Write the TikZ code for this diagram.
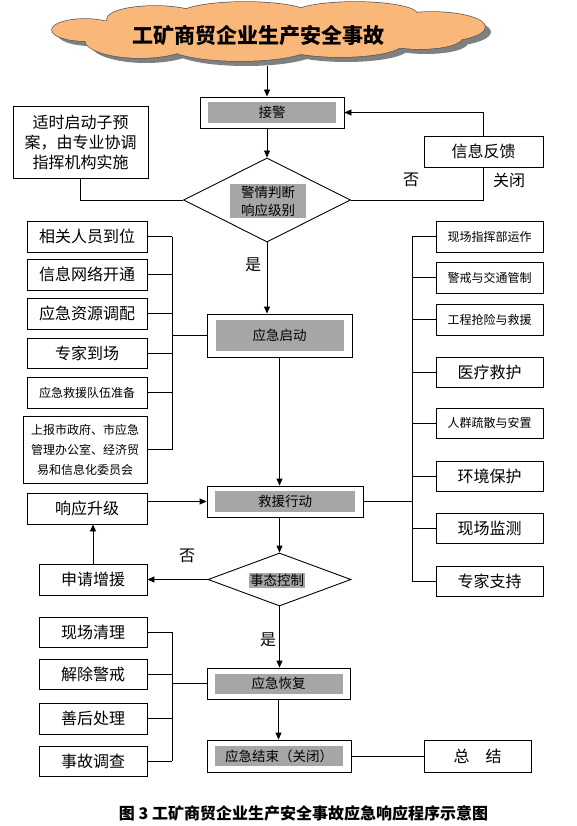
\documentclass[tikz,border=0pt]{standalone}
\usepackage{fontspec}
\setmainfont{Noto Sans CJK SC}
\usetikzlibrary{arrows.meta,shapes.geometric}
\definecolor{hl}{RGB}{166,166,166}
\definecolor{cloudc}{RGB}{249,184,122}
\definecolor{shad}{RGB}{128,128,128}
\begin{document}
\begin{tikzpicture}[x=1pt,y=-1pt,
 bx/.style={draw,line width=0.9pt,fill=white,inner sep=0pt,align=center},
 hlb/.style={fill=hl,inner sep=0pt,align=center},
 ln/.style={line width=0.9pt},
 arr/.style={line width=0.9pt,-{Triangle[length=7pt,width=6pt]}},
 f16/.style={font=\fontsize{16}{20}\selectfont},
 f13/.style={font=\fontsize{13.5}{18}\selectfont},
 f12/.style={font=\fontsize{12}{20}\selectfont},
]
\fill[white] (0,0) rectangle (576,826);
\useasboundingbox (0,0) rectangle (576,826);

% cloud (drawn as overlapping lobes)
\def\cloudlobes{
 (85,30) ellipse [x radius=33pt, y radius=11pt]
 (140,40) ellipse [x radius=55pt, y radius=18pt]
 (155,19) ellipse [x radius=48pt, y radius=13pt]
 (245,15) ellipse [x radius=66pt, y radius=13pt]
 (355,14) ellipse [x radius=62pt, y radius=12pt]
 (432,27) ellipse [x radius=53pt, y radius=15pt]
 (240,46) ellipse [x radius=72pt, y radius=15pt]
 (340,44) ellipse [x radius=62pt, y radius=13pt]
 (420,38) ellipse [x radius=42pt, y radius=11pt]
 (267,30) ellipse [x radius=180pt, y radius=20pt]}
\begin{scope}[shift={(6,5)}]
 \fill[shad] \cloudlobes;
\end{scope}
\draw[black!65,line width=1.4pt] \cloudlobes;
\fill[cloudc] \cloudlobes;
\coordinate (cloudbot) at (267,66);
\node[font=\fontsize{21}{21}\selectfont\bfseries] (title) at (258,36) {工矿商贸企业生产安全事故};

% main column
\node[bx,minimum width=144pt,minimum height=31pt] (jj) at (272,112.5) {};
\node[hlb,f13,minimum width=128pt,minimum height=21pt] (jjt) at (jj) {接警};

\node[diamond,draw,ln,fill=white,inner sep=0pt,minimum width=167pt,minimum height=84pt] (judge) at (267,200) {};
\node[hlb,f13,minimum width=76pt,inner sep=2pt] (judget) at (268,201) {警情判断\\响应级别};

\node[bx,f16,minimum width=135pt,minimum height=72pt] (sub) at (80.5,142) {适时启动子预\\案，由专业协调\\指挥机构实施};
\node[bx,f16,minimum width=119pt,minimum height=31pt] (fb) at (483.5,151.5) {信息反馈};

\node[bx,minimum width=145pt,minimum height=43pt] (start) at (279.5,335.5) {};
\node[hlb,f13,minimum width=128pt,minimum height=31pt] (startt) at (start) {应急启动};

\node[bx,minimum width=156pt,minimum height=31pt] (rescue) at (285,501.5) {};
\node[hlb,f13,minimum width=140pt,minimum height=21pt] (rescuet) at (rescue) {救援行动};

\node[diamond,draw,ln,fill=white,inner sep=0pt,minimum width=143pt,minimum height=53pt] (ctrl) at (279.5,579.5) {};
\node[hlb,f13,inner sep=1pt] (ctrlt) at (277,580.5) {事态控制};

\node[bx,minimum width=143pt,minimum height=31pt] (recover) at (278.5,683.5) {};
\node[hlb,f13,minimum width=128pt,minimum height=20pt] (recovert) at (recover) {应急恢复};

\node[bx,minimum width=144pt,minimum height=32pt] (endb) at (279,756) {};
\node[hlb,f13,minimum width=128pt,minimum height=20pt] (endt) at (endb) {应急结束（关闭）};

\node[bx,f16,minimum width=107pt,minimum height=32pt] (sum) at (477.5,756) {总　结};

% left column (start)
\node[bx,f16,minimum width=120pt,minimum height=31pt] (rel) at (87,236.5) {相关人员到位};
\node[bx,f16,minimum width=120pt,minimum height=31pt] (net) at (87,274.5) {信息网络开通};
\node[bx,f16,minimum width=120pt,minimum height=31pt] (res) at (87,313.5) {应急资源调配};
\node[bx,f16,minimum width=120pt,minimum height=30pt] (expt) at (87,353) {专家到场};
\node[bx,f12,minimum width=120pt,minimum height=31pt] (team) at (87,392.5) {应急救援队伍准备};
\node[bx,f12,minimum width=124pt,minimum height=67pt] (rep) at (85,449.5) {上报市政府、市应急\\管理办公室、经济贸\\易和信息化委员会};

% left column (rescue)
\node[bx,f16,minimum width=120pt,minimum height=31pt] (up) at (87,508.5) {响应升级};
\node[bx,f16,minimum width=108pt,minimum height=31pt] (apply) at (93,579.5) {申请增援};

% left column (recover)
\node[bx,f16,minimum width=108pt,minimum height=30pt] (clean) at (93,632) {现场清理};
\node[bx,f16,minimum width=108pt,minimum height=30pt] (relieve) at (93,674) {解除警戒};
\node[bx,f16,minimum width=108pt,minimum height=31pt] (after) at (93,718.5) {善后处理};
\node[bx,f16,minimum width=108pt,minimum height=30pt] (invest) at (93,761) {事故调查};

% right column
\node[bx,f12,minimum width=107pt,minimum height=31pt] (cmd) at (489.5,236.5) {现场指挥部运作};
\node[bx,f12,minimum width=107pt,minimum height=31pt] (traf) at (489.5,277.5) {警戒与交通管制};
\node[bx,f12,minimum width=107pt,minimum height=31pt] (eng) at (489.5,319.5) {工程抢险与救援};
\node[bx,f16,minimum width=107pt,minimum height=30pt] (med) at (489.5,372) {医疗救护};
\node[bx,f12,minimum width=107pt,minimum height=30pt] (crowd) at (489.5,423) {人群疏散与安置};
\node[bx,f16,minimum width=107pt,minimum height=30pt] (env) at (489.5,476) {环境保护};
\node[bx,f16,minimum width=107pt,minimum height=30pt] (mon) at (489.5,528) {现场监测};
\node[bx,f16,minimum width=107pt,minimum height=30pt] (exps) at (489.5,581) {专家支持};

% bus coordinates
\coordinate (bL) at (172,336);
\coordinate (bL2) at (172,685);
\coordinate (bR) at (412,502);

% main arrows
\draw[arr] (cloudbot) -- (cloudbot |- jj.north);
\draw[arr] (jj.south -| judge.north) -- (judge.north);
\draw[ln] (sub.south) -- (sub.south |- judge.west) -- (judge.west);
\draw[ln] (judge.east) -- (judge.east -| fb.south) -- (fb.south);
\draw[arr] (fb.north) -- (fb.north |- jj.east) -- (jj.east);
\draw[arr] (judge.south) -- (judge.south |- start.north);
\draw[arr] (start.south) -- (start.south |- rescue.north);
\draw[arr] (up.east |- rescue.west) -- (rescue.west);
\draw[arr] (apply.north) -- (apply.north |- up.south);
\draw[arr] (ctrl.north |- rescue.south) -- (ctrl.north);
\draw[arr] (ctrl.west) -- (ctrl.west -| apply.east);
\draw[arr] (ctrl.south) -- (ctrl.south |- recover.north);
\draw[arr] (recover.south) -- (recover.south |- endb.north);
\draw[ln] (endb.east) -- (sum.west);

% left bus 1
\foreach \n in {rel,net,res,expt,team,rep} \draw[ln] (\n.east) -- (\n.east -| bL);
\draw[ln] (rel.east -| bL) -- (rep.east -| bL);
\draw[ln] (start.west -| bL) -- (start.west);

% left bus 2
\foreach \n in {clean,relieve,after,invest} \draw[ln] (\n.east) -- (\n.east -| bL2);
\draw[ln] (clean.east -| bL2) -- (invest.east -| bL2);
\draw[ln] (recover.west -| bL2) -- (recover.west);

% right bus
\foreach \n in {cmd,traf,eng,med,crowd,env,mon,exps} \draw[ln] (\n.west) -- (\n.west -| bR);
\draw[ln] (cmd.west -| bR) -- (exps.west -| bR);
\draw[ln] (rescue.east) -- (rescue.east -| bR);

% labels
\node[f16] (no1) at (411,180) {否};
\node[f16] (close) at (509,180) {关闭};
\node[f16] (yes1) at (253,265) {是};
\node[f16] (no2) at (187,556) {否};
\node[f16] (yes2) at (268,640) {是};

% caption
\node[font=\fontsize{16}{16}\selectfont\bfseries] (cap) at (303.5,813) {图 3 工矿商贸企业生产安全事故应急响应程序示意图};
\end{tikzpicture}
\end{document}
